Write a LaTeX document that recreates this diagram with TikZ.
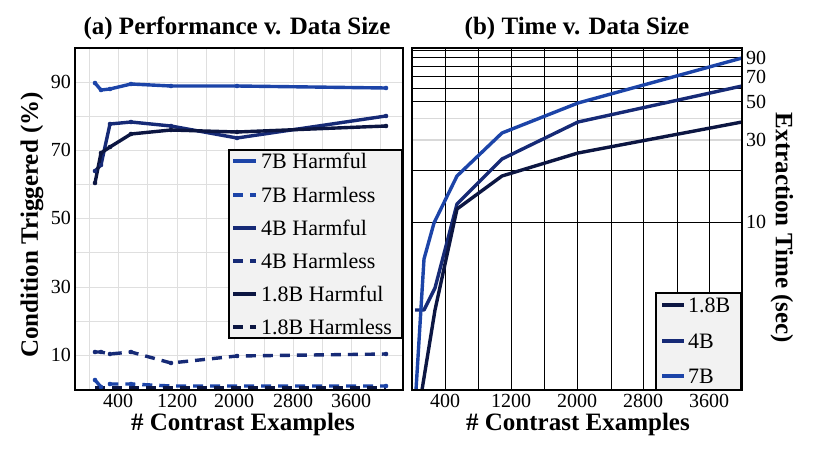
\documentclass[tikz,border=0pt]{standalone}
\usepackage{fontspec}
\setmainfont{Liberation Serif}
\definecolor{k7}{RGB}{28,68,168}
\definecolor{k4}{RGB}{22,42,118}
\definecolor{k18}{RGB}{12,22,66}
\begin{document}
\begin{tikzpicture}[x=1pt,y=-1pt,
  c7/.style={draw=k7},
  c4/.style={draw=k4},
  c18/.style={draw=k18},
  ser/.style={line width=3.4pt,line join=round},
  dsh/.style={ser,dash pattern=on 10pt off 7pt},
  tick/.style={font=\fontsize{20}{20}\selectfont,inner sep=0pt},
  ttl/.style={font=\bfseries\fontsize{25}{25}\selectfont,inner sep=0pt},
  leg/.style={font=\fontsize{22}{22}\selectfont,anchor=west,inner sep=0pt}]
\useasboundingbox (0,0) rectangle (815,458);
% ---------- panel a ----------
\foreach \y in {48,82,116,150,184,218,252,287,321,355} \draw[gray!25,line width=0.8pt] (75,\y) -- (403,\y);
\foreach \x in {89,118,147,177,206,234,264,293,322,351,380} \draw[gray!25,line width=0.8pt] (\x,48) -- (\x,390);
\draw[c7,ser] (95,83) -- (101,90) -- (110,89) -- (131,84) -- (171,86) -- (237,86) -- (386,88);
\draw[c4,ser] (95,171) -- (101,165) -- (110,124) -- (131,122) -- (171,126) -- (237,138) -- (386,116);
\draw[c18,ser] (95,183) -- (101,153) -- (110,147) -- (131,134) -- (171,130) -- (237,132) -- (386,126);
\draw[c4,dsh] (95,352) -- (101,352) -- (110,354) -- (131,352) -- (171,363) -- (237,356) -- (386,354);
\draw[c7,dsh] (95,380) -- (101,387) -- (110,384) -- (131,384) -- (171,386) -- (237,386) -- (386,386);
\draw[c18,dsh] (95,388) -- (101,388) -- (110,388) -- (131,388) -- (171,388) -- (237,388) -- (386,388);
\foreach \x/\y in {95/83,101/90,110/89,131/84,171/86,237/86,386/88,95/380,101/387,110/384,131/384,386/386} \fill[k7] (\x,\y) circle (2.3pt);
\foreach \x/\y in {95/171,101/165,110/124,131/122,171/126,237/138,386/116,95/352,101/352,110/354,131/352,171/363,237/356,386/354} \fill[k4] (\x,\y) circle (2.3pt);
\foreach \x/\y in {95/183,101/153,110/147,131/134,171/130,237/132,386/126} \fill[k18] (\x,\y) circle (2.3pt);
\draw[line width=1.6pt] (75,48) rectangle (403,390);
\foreach \y/\t in {82/90,150/70,218/50,287/30,355/10} \node[tick,anchor=east] at (71,\y) {\t};
\foreach \x/\t in {118/400,177/1200,234/2000,293/2800,351/3600} \node[tick,anchor=north] at (\x,394) {\t};
\node[ttl] (ta) at (237,28) {(a) Performance v. Data Size};
\node[ttl] (xa) at (243,424) {\# Contrast Examples};
\node[ttl,rotate=90] (ya) at (32,225) {Condition Triggered (\%)};
\draw[fill=gray!10,line width=1.4pt] (229,150) rectangle (402,338);
\foreach \y/\s/\st/\t in {161/c7/ser/7B Harmful,195/c7/dsh/7B Harmless,228/c4/ser/4B Harmful,261/c4/dsh/4B Harmless,294/c18/ser/1.8B Harmful,327/c18/dsh/1.8B Harmless}{
  \draw[\s,\st] (233,\y) -- (256,\y);
  \node[leg] at (261,\y) {\t};}
% ---------- panel b ----------
\foreach \v in {20,50,60,70,80,90,100} \draw[line width=0.8pt] (412,{222-172*log10(\v/10)}) -- (742,{222-172*log10(\v/10)});
\foreach \v in {30,40} \draw[gray!30,line width=1.2pt] (412,{222-172*log10(\v/10)}) -- (742,{222-172*log10(\v/10)});
\draw[line width=0.8pt] (412,222) -- (742,222);
\foreach \x in {445,478,511,544,577,611,643,677,709} \draw[line width=0.8pt] (\x,48) -- (\x,390);
\draw[c4,ser] (415,310) -- (424,310) -- (435,288) -- (457,204) -- (502,159) -- (578,122) -- (742,86);
\draw[c18,ser] (422,390) -- (435,310) -- (457,209) -- (502,176) -- (578,153) -- (742,122);
\draw[c7,ser] (416,390) -- (424,259) -- (434,223) -- (457,176) -- (502,133) -- (578,103) -- (742,58);
\draw[line width=1.8pt] (412,48) rectangle (742,390);
\foreach \v/\t in {90/90,70/70,50/50,30/30,10/10} \node[tick,anchor=west] at (746,{222-172*log10(\v/10)}) {\t};
\foreach \x/\t in {445/400,511/1200,577/2000,643/2800,709/3600} \node[tick,anchor=north] at (\x,394) {\t};
\node[ttl] (tb) at (577,28) {(b) Time v. Data Size};
\node[ttl] (xb) at (578,424) {\# Contrast Examples};
\node[ttl,rotate=-90] (yb) at (782,228) {Extraction Time (sec)};
\draw[fill=gray!10,line width=1.4pt] (656,293) rectangle (741,390);
\foreach \y/\s/\t in {305/c18/1.8B,341/c4/4B,376/c7/7B}{
  \draw[\s,ser] (662,\y) -- (684,\y);
  \node[leg] at (688,\y) {\t};}
\end{tikzpicture}
\end{document}
